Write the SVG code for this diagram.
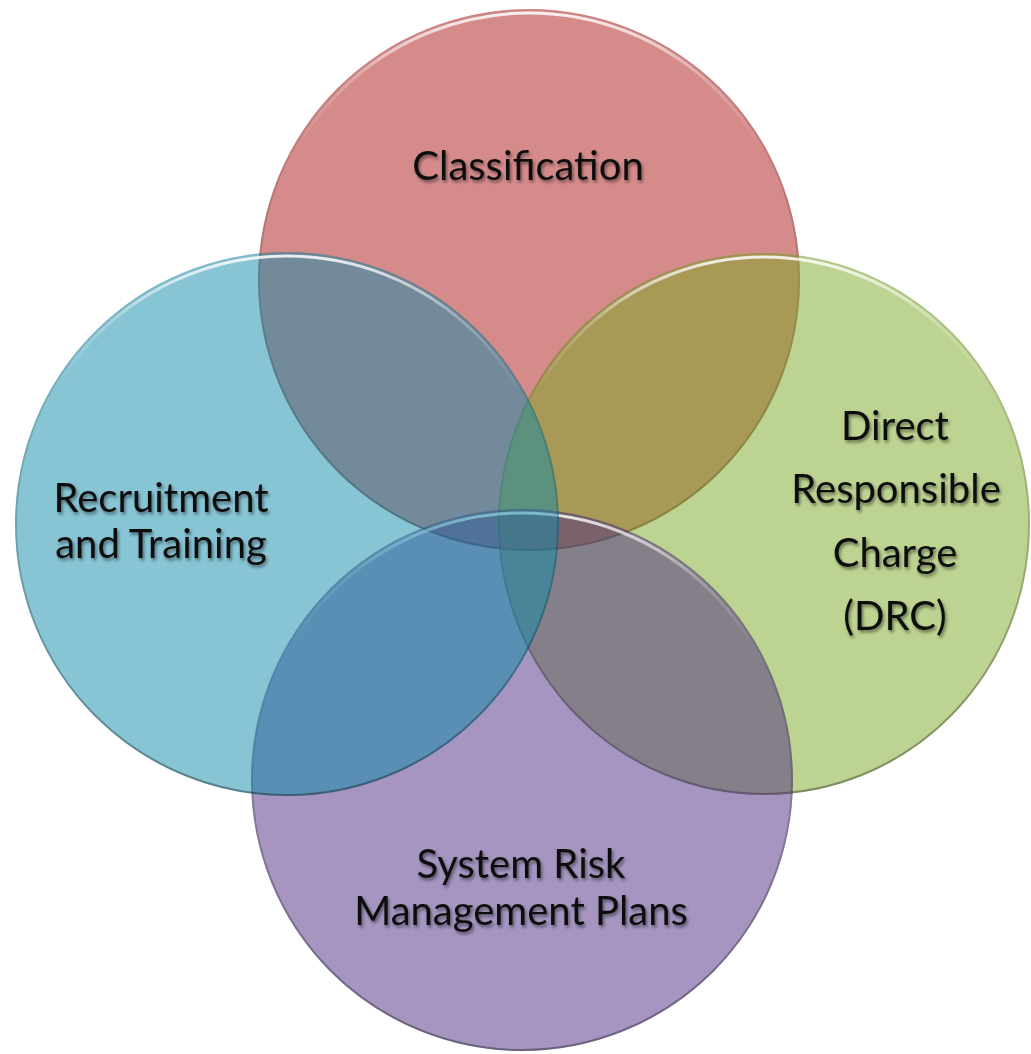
<svg xmlns="http://www.w3.org/2000/svg" width="1031" height="1054" viewBox="0 0 1031 1054">
  <defs>
    <linearGradient id="hl" x1="0" y1="0" x2="0" y2="1">
      <stop offset="0" stop-color="#ffffff" stop-opacity="0.85"/>
      <stop offset="0.12" stop-color="#ffffff" stop-opacity="0.25"/>
      <stop offset="0.25" stop-color="#ffffff" stop-opacity="0"/>
    </linearGradient>
    <linearGradient id="edge" x1="0" y1="0" x2="0" y2="1">
      <stop offset="0" stop-color="#000000" stop-opacity="0.05"/>
      <stop offset="0.6" stop-color="#000000" stop-opacity="0.2"/>
      <stop offset="1" stop-color="#000000" stop-opacity="0.35"/>
    </linearGradient>
    <filter id="shadow" x="-10%" y="-30%" width="120%" height="160%">
      <feDropShadow dx="1.5" dy="2.5" stdDeviation="1.6" flood-color="#000000" flood-opacity="0.45"/>
    </filter>
  </defs>
  <style>
    .disk { fill-opacity: 0.5; }
    .rim { fill: none; stroke: url(#edge); stroke-width: 2; }
    .hi { fill: none; stroke: url(#hl); stroke-width: 3; }
    .lbl { font-family: Lato, "Liberation Sans", sans-serif; font-size: 40px; fill: #111111; text-anchor: middle; filter: url(#shadow); }
  </style>
  <rect width="1031" height="1054" fill="#ffffff"/>

  <g id="classification">
    <circle class="disk" cx="529" cy="280" r="271" fill="#ad1717"/>
    <circle class="rim" cx="529" cy="280" r="270"/>
    <circle class="hi" cx="529" cy="280" r="267"/>
    <text class="lbl" x="528" y="180">Classification</text>
  </g>

  <g id="drc">
    <ellipse class="disk" cx="764" cy="524" rx="266" ry="271" fill="#7ba823"/>
    <ellipse class="rim" cx="764" cy="524" rx="265" ry="270"/>
    <ellipse class="hi" cx="764" cy="524" rx="262" ry="267"/>
    <text class="lbl" x="895" y="440">Direct</text>
    <text class="lbl" x="896" y="503">Responsible</text>
    <text class="lbl" x="895" y="567">Charge</text>
    <text class="lbl" x="895" y="630">(DRC)</text>
  </g>

  <g id="srmp">
    <circle class="disk" cx="522" cy="780" r="271" fill="#4b2b81"/>
    <circle class="rim" cx="522" cy="780" r="270"/>
    <circle class="hi" cx="522" cy="780" r="267"/>
    <text class="lbl" x="521" y="878">System Risk</text>
    <text class="lbl" x="521" y="925">Management Plans</text>
  </g>

  <g id="recruitment">
    <circle class="disk" cx="287" cy="524" r="272" fill="#0f89a9"/>
    <circle class="rim" cx="287" cy="524" r="271"/>
    <circle class="hi" cx="287" cy="524" r="268"/>
    <text class="lbl" x="161" y="512">Recruitment</text>
    <text class="lbl" x="161" y="558">and Training</text>
  </g>
</svg>
